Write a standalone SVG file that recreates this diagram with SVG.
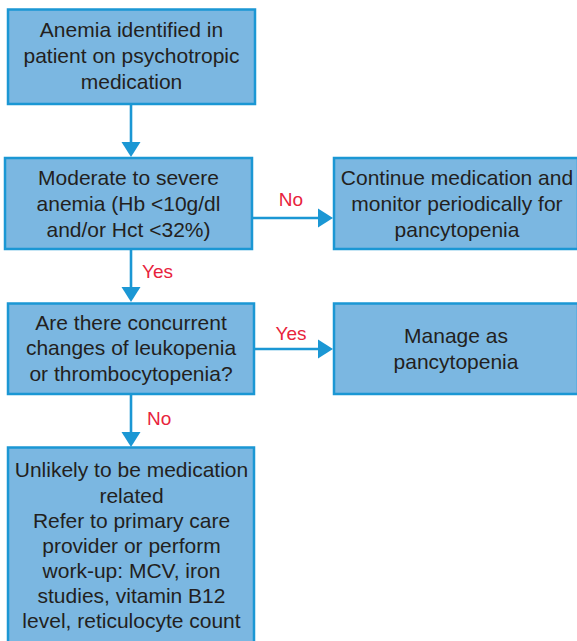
<svg xmlns="http://www.w3.org/2000/svg" width="577" height="641" viewBox="0 0 577 641">
  <style>
    .box { fill: #7bb7e1; stroke: #1b97d4; stroke-width: 2.5; }
    .txt { font-family: "Liberation Sans", Arial, Helvetica, sans-serif; font-size: 21px; fill: #231f20; text-anchor: middle; }
    .lbl { font-family: "Liberation Sans", Arial, Helvetica, sans-serif; font-size: 19px; fill: #e8233c; }
    .edge { fill: none; stroke: #1b97d4; stroke-width: 2.6; marker-end: url(#head); }
  </style>
  <defs>
    <!-- solid triangular arrowhead; line stops 10px short of the tip -->
    <marker id="head" markerUnits="userSpaceOnUse" markerWidth="16" markerHeight="20" refX="5" refY="10" orient="auto">
      <path d="M0,0.5 L15,10 L0,19.5 Z" fill="#1b97d4"/>
    </marker>
  </defs>

  <g id="connectors">
    <path class="edge" d="M131,104 V147"/>
    <path class="edge" d="M131,249 V292"/>
    <path class="edge" d="M131,394 V437"/>
    <path class="edge" d="M252,218 H323"/>
    <path class="edge" d="M254,349 H323"/>
    <text class="lbl" x="291" y="206" text-anchor="middle">No</text>
    <text class="lbl" x="142" y="278">Yes</text>
    <text class="lbl" x="291" y="340" text-anchor="middle">Yes</text>
    <text class="lbl" x="147" y="425">No</text>
  </g>

  <g id="start">
    <rect class="box" x="8" y="9.5" width="247" height="94.5"/>
    <text class="txt" x="131.5" y="37">Anemia identified in</text>
    <text class="txt" x="131.5" y="63">patient on psychotropic</text>
    <text class="txt" x="131.5" y="88.5">medication</text>
  </g>

  <g id="severity">
    <rect class="box" x="5" y="158" width="247" height="91"/>
    <text class="txt" x="128.5" y="185">Moderate to severe</text>
    <text class="txt" x="128.5" y="211">anemia (Hb &lt;10g/dl</text>
    <text class="txt" x="128.5" y="236.5">and/or Hct &lt;32%)</text>
  </g>

  <g id="continue">
    <rect class="box" x="334" y="158" width="244" height="91"/>
    <text class="txt" x="457" y="185">Continue medication and</text>
    <text class="txt" x="457" y="211">monitor periodically for</text>
    <text class="txt" x="457" y="236.5">pancytopenia</text>
  </g>

  <g id="concurrent">
    <rect class="box" x="8" y="303.5" width="246" height="90.5"/>
    <text class="txt" x="131" y="329.5">Are there concurrent</text>
    <text class="txt" x="131" y="355">changes of leukopenia</text>
    <text class="txt" x="131" y="380.5">or thrombocytopenia?</text>
  </g>

  <g id="pancytopenia">
    <rect class="box" x="334" y="303.5" width="244" height="90.5"/>
    <text class="txt" x="456" y="343">Manage as</text>
    <text class="txt" x="456" y="368.5">pancytopenia</text>
  </g>

  <g id="workup">
    <rect class="box" x="8" y="447.5" width="246" height="200"/>
    <text class="txt" x="131.5" y="477">Unlikely to be medication</text>
    <text class="txt" x="131.5" y="502.5">related</text>
    <text class="txt" x="131.5" y="527.5">Refer to primary care</text>
    <text class="txt" x="131.5" y="552.5">provider or perform</text>
    <text class="txt" x="131.5" y="578">work-up: MCV, iron</text>
    <text class="txt" x="131.5" y="603">studies, vitamin B12</text>
    <text class="txt" x="131.5" y="628">level, reticulocyte count</text>
  </g>
</svg>
